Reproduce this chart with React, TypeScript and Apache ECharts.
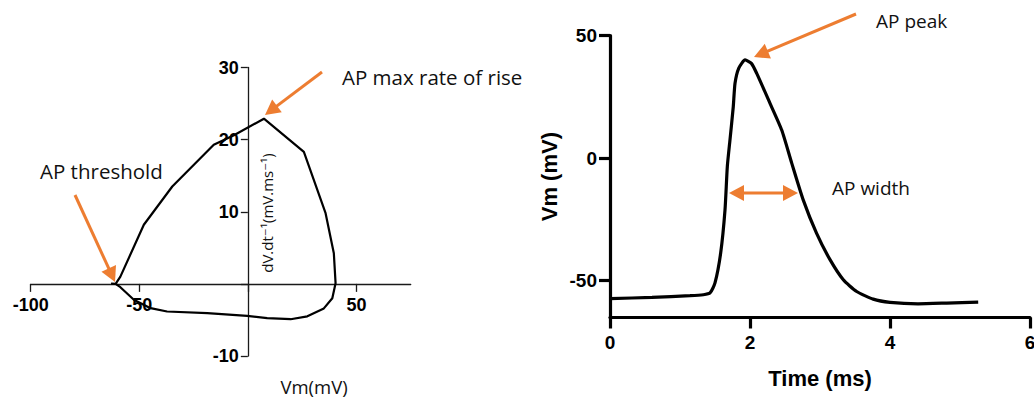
import React, { useEffect, useRef } from "react";
import * as echarts from "echarts";

// Phase plot (left): membrane potential vs dV/dt
const phaseVm = [-63, -60.9, -58.7, -47.9, -34.8, -15.7, -6.4, 7.4, 25.8, 35.8, 39.6, 40.4, 38.9, 35.0, 27.4, 19.7, 8.9, -0.3, -18.7, -37.2, -44.8, -52.5, -58.7, -60.9];
const phaseDvdt = [0.05, 0, 1.0, 8.2, 13.5, 19.3, 20.6, 22.9, 18.3, 9.8, 4.25, 0.1, -2.0, -3.4, -4.5, -4.9, -4.75, -4.43, -4.06, -3.83, -3.37, -2.2, -0.46, 0];
const phaseXRange = [-100, 75];
const phaseYRange = [-10, 30];
const phaseXTicks = [-100, -50, 0, 50];
const phaseYTicks = [-10, 0, 10, 20, 30];
const phaseXLabels = [-100, -50, 50];
const phaseYLabels = [-10, 10, 20, 30];

// Action potential (right): time vs Vm
const apTime = [0, 0.6, 1.143, 1.333, 1.429, 1.5, 1.581, 1.643, 1.676, 1.714, 1.761, 1.786, 1.84, 1.93, 2.02, 2.096, 2.286, 2.453, 2.596, 2.76, 2.95, 3.143, 3.333, 3.524, 3.76, 4.0, 4.4, 4.81, 5.26];
const apVm = [-57.3, -56.8, -56.1, -55.7, -55.0, -50.9, -38.7, -21.1, -3.4, 7.5, 21.0, 30.6, 36.8, 40.1, 38.7, 34.6, 22.4, 11.5, -2.0, -17.0, -30.6, -41.4, -49.6, -54.4, -57.5, -58.8, -59.4, -59.1, -58.7];
const apXTicks = [0, 2, 4, 6];
const apYTicks = [-50, 0, 50];

const ORANGE = "#ED7D31";
const ANNOT_FONT = "'Open Sans', 'DejaVu Sans', sans-serif";
const AXIS_FONT = "'Liberation Sans', Arial, sans-serif";

function head(tx: number, ty: number, ux: number, uy: number) {
  const hl = 15, hw = 8;
  return {
    type: "polygon",
    shape: {
      points: [
        [tx, ty],
        [tx - ux * hl - uy * hw, ty - uy * hl + ux * hw],
        [tx - ux * hl + uy * hw, ty - uy * hl - ux * hw],
      ],
    },
    style: { fill: ORANGE },
    silent: true,
  };
}

function arrow(x1: number, y1: number, x2: number, y2: number, both = false) {
  const dx = x2 - x1, dy = y2 - y1;
  const L = Math.hypot(dx, dy);
  const ux = dx / L, uy = dy / L;
  const hl = 13;
  const sx = both ? x1 + ux * hl : x1;
  const sy = both ? y1 + uy * hl : y1;
  const els: any[] = [
    {
      type: "line",
      shape: { x1: sx, y1: sy, x2: x2 - ux * hl, y2: y2 - uy * hl },
      style: { stroke: ORANGE, lineWidth: 3 },
      silent: true,
    },
    head(x2, y2, ux, uy),
  ];
  if (both) els.push(head(x1, y1, -ux, -uy));
  return els;
}

function annot(text: string, x: number, y: number, size: number) {
  return {
    type: "text",
    x,
    y,
    silent: true,
    style: {
      text,
      fill: "#111",
      font: `${size}px ${ANNOT_FONT}`,
      textAlign: "left",
      textVerticalAlign: "middle",
    },
  };
}

function tickLabel(text: string, x: number, y: number, align: string, vAlign: string) {
  return {
    type: "text",
    x,
    y,
    silent: true,
    style: {
      text,
      fill: "#000",
      font: `bold 18px ${AXIS_FONT}`,
      textAlign: align,
      textVerticalAlign: vAlign,
    },
  };
}

export default function App() {
  const ref = useRef<HTMLDivElement>(null);

  useEffect(() => {
    document.body.style.margin = "0";
    if (!ref.current) return;
    const chart = echarts.init(ref.current, undefined, { renderer: "svg" });

    const thinAxis = { lineStyle: { color: "#1a1a1a", width: 1.3 } };
    const thickAxis = { lineStyle: { color: "#000", width: 3.2 } };

    const g0 = { left: 30.7, top: 67.5, width: 380, height: 288.5, outerBoundsMode: "none", containLabel: false };
    const g1 = { left: 610, top: 35.7, width: 420, height: 281.8, outerBoundsMode: "none", containLabel: false };

    chart.setOption({
      animation: false,
      backgroundColor: "#fff",
      grid: [g0, g1],
      xAxis: [
        {
          gridIndex: 0,
          type: "value",
          min: phaseXRange[0],
          max: phaseXRange[1],
          splitLine: { show: false },
          axisLine: { show: true, onZero: true, ...thinAxis },
          axisTick: { show: true, length: 8, customValues: phaseXTicks, lineStyle: { color: "#1a1a1a", width: 1.3 } },
          axisLabel: { show: false },
        },
        {
          gridIndex: 1,
          type: "value",
          min: 0,
          max: 6,
          splitLine: { show: false },
          axisLine: { show: true, onZero: false, ...thickAxis },
          axisTick: { show: true, length: 11, customValues: apXTicks, lineStyle: { color: "#000", width: 3.2 } },
          axisLabel: {
            customValues: apXTicks,
            margin: 15,
            color: "#000",
            fontFamily: AXIS_FONT,
            fontWeight: "bold",
            fontSize: 19,
          },
          name: "Time (ms)",
          nameLocation: "middle",
          nameGap: 50,
          nameTextStyle: { color: "#000", fontFamily: AXIS_FONT, fontWeight: "bold", fontSize: 22 },
        },
      ],
      yAxis: [
        {
          gridIndex: 0,
          type: "value",
          min: phaseYRange[0],
          max: phaseYRange[1],
          splitLine: { show: false },
          axisLine: { show: true, onZero: true, ...thinAxis },
          axisTick: { show: true, length: 7, customValues: phaseYTicks, lineStyle: { color: "#1a1a1a", width: 1.3 } },
          axisLabel: { show: false },
        },
        {
          gridIndex: 1,
          type: "value",
          min: -65,
          max: 50,
          splitLine: { show: false },
          axisLine: { show: true, onZero: false, ...thickAxis },
          axisTick: { show: true, length: 11, customValues: apYTicks, lineStyle: { color: "#000", width: 3.2 } },
          axisLabel: {
            customValues: apYTicks,
            margin: 13,
            color: "#000",
            fontFamily: AXIS_FONT,
            fontWeight: "bold",
            fontSize: 19,
          },
          name: "Vm (mV)",
          nameLocation: "middle",
          nameGap: 50,
          nameTextStyle: { color: "#000", fontFamily: AXIS_FONT, fontWeight: "bold", fontSize: 22 },
        },
      ],
      series: [
        {
          type: "line",
          xAxisIndex: 0,
          yAxisIndex: 0,
          data: phaseVm.map((v, i) => [v, phaseDvdt[i]]),
          showSymbol: false,
          symbol: "none",
          lineStyle: { color: "#000", width: 2.2 },
          clip: false,
          silent: true,
        },
        {
          type: "line",
          xAxisIndex: 1,
          yAxisIndex: 1,
          data: apTime.map((t, i) => [t, apVm[i]]),
          showSymbol: false,
          symbol: "none",
          smooth: 0.2,
          lineStyle: { color: "#000", width: 3.2 },
          silent: true,
        },
      ],
    });

    // tick labels of the crossing axes, placed through the chart's own scales
    const labels: any[] = [];
    phaseXLabels.forEach((v) => {
      const p = chart.convertToPixel({ gridIndex: 0 }, [v, 0]) as number[];
      labels.push(tickLabel(String(v), p[0], p[1] + 12, "center", "top"));
    });
    phaseYLabels.forEach((v) => {
      const p = chart.convertToPixel({ gridIndex: 0 }, [0, v]) as number[];
      labels.push(tickLabel(String(v), p[0] - 9, p[1], "right", "middle"));
    });

    chart.setOption({
      graphic: [
        ...labels,
        annot("AP threshold", 40, 171, 20.5),
        annot("AP max rate of rise", 342, 77, 20.5),
        annot("AP peak", 876, 21, 19),
        annot("AP width", 832, 188, 19),
        {
          type: "text",
          x: 314,
          y: 386,
          silent: true,
          style: {
            text: "Vm(mV)",
            fill: "#111",
            font: `18.5px ${ANNOT_FONT}`,
            textAlign: "center",
            textVerticalAlign: "middle",
          },
        },
        {
          type: "text",
          x: 267,
          y: 213,
          rotation: Math.PI / 2,
          silent: true,
          style: {
            text: "dV.dt⁻¹(mV.ms⁻¹)",
            fill: "#111",
            font: `15px ${ANNOT_FONT}`,
            textAlign: "center",
            textVerticalAlign: "middle",
          },
        },
        ...arrow(75, 195, 115, 282),
        ...arrow(322, 72, 265, 115),
        ...arrow(856, 14, 754, 57),
        ...arrow(729, 193, 798, 193, true),
      ],
    });

    return () => chart.dispose();
  }, []);

  return <div ref={ref} style={{ width: 1034, height: 402 }} />;
}
